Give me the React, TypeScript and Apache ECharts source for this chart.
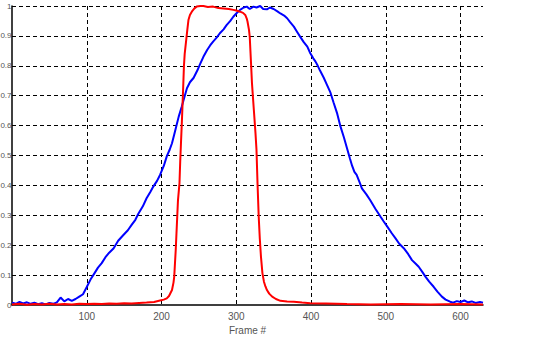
import React, { useEffect, useRef } from "react";
import * as echarts from "echarts";

const blueX = [0,5,10,15,20,25,30,35,40,45,50,55,60,65,70,75,80,85,90,95,100,105,110,115,120,125,130,136,142,149,155,160,165,169,175,180,185,189,194,198,203,207,211,214,217,220,223,227,230,234,238,243,248,252,256,261,265,269,274,278,283,287,292,296,300,305,310,314,318,323,327,332,336,341,345,350,355,359,364,368,372,377,381,386,390,395,399,403,406,409,412,417,421,426,430,435,439,444,448,452,455,458,461,465,468,474,479,486,493,497,502,508,513,518,524,530,535,540,544,549,553,558,564,569,575,580,586,590,595,600,605,610,615,620,626,630];
const blueY = [0.008,0.004,0.01,0.005,0.009,0.004,0.008,0.003,0.006,0.002,0.007,0.004,0.009,0.025,0.012,0.02,0.014,0.02,0.028,0.036,0.06,0.085,0.105,0.125,0.14,0.16,0.175,0.19,0.215,0.234,0.25,0.268,0.285,0.305,0.33,0.357,0.378,0.396,0.415,0.435,0.465,0.497,0.52,0.541,0.57,0.6,0.63,0.663,0.69,0.725,0.745,0.76,0.785,0.808,0.83,0.853,0.868,0.881,0.895,0.909,0.922,0.936,0.95,0.964,0.975,0.987,0.995,0.998,0.99,0.998,0.995,1.0,0.99,0.989,0.995,0.99,0.982,0.975,0.968,0.959,0.946,0.931,0.915,0.895,0.88,0.864,0.842,0.825,0.814,0.8,0.784,0.76,0.738,0.71,0.678,0.64,0.6,0.56,0.525,0.49,0.465,0.445,0.435,0.41,0.39,0.37,0.351,0.322,0.295,0.28,0.262,0.24,0.223,0.205,0.19,0.17,0.15,0.138,0.128,0.11,0.095,0.078,0.061,0.045,0.028,0.018,0.011,0.008,0.013,0.01,0.015,0.009,0.012,0.007,0.01,0.008];

const redX = [0,10,20,30,40,50,60,70,80,90,100,110,120,130,140,150,160,170,180,190,198,203,207,210,212,214,216,217,218,219,220,221,222,224,225,226,227,228,229,230,231,233,234.5,236,238,240.5,244,247,252,256,262,269,276,283,290,296,300,305,309,312,314,315,317,318,319.5,321,323.5,325.7,327,328.4,330,331.5,333,335,337,339,341,344,348,353,359,368,377,388,399,420,448,480,520,560,600,630];
const redY = [0.002,0.004,0.001,0.003,0.002,0.004,0.002,0.003,0.002,0.004,0.003,0.004,0.003,0.005,0.004,0.006,0.005,0.007,0.008,0.01,0.015,0.018,0.022,0.03,0.04,0.05,0.075,0.095,0.14,0.184,0.24,0.295,0.35,0.407,0.48,0.541,0.6,0.663,0.73,0.8,0.84,0.886,0.92,0.953,0.97,0.981,0.992,0.998,1.0,1.0,0.997,0.998,0.993,0.992,0.99,0.987,0.985,0.981,0.977,0.97,0.958,0.948,0.92,0.897,0.82,0.741,0.652,0.574,0.52,0.407,0.295,0.22,0.162,0.106,0.078,0.062,0.05,0.038,0.028,0.02,0.014,0.012,0.011,0.008,0.006,0.005,0.003,0.002,0.003,0.002,0.003,0.002];

const xName = "Frame #";

export default function App() {
  const ref = useRef<HTMLDivElement>(null);
  useEffect(() => {
    if (!ref.current) return;
    const chart = echarts.init(ref.current, null, { renderer: "svg" });
    const labelFont = { fontFamily: "'Liberation Sans Narrow', 'Liberation Sans', Arial, sans-serif", color: "#555" };
    chart.setOption({
      animation: false,
      backgroundColor: "#fff",
      grid: { left: 12, top: 6, right: 57, bottom: 42, containLabel: false, outerBoundsMode: "none" },
      xAxis: {
        type: "value",
        min: 0,
        max: 630,
        interval: 100,
        name: xName,
        nameLocation: "middle",
        nameGap: 17,
        nameTextStyle: { ...labelFont, fontSize: 10 },
        axisLine: { show: true, onZero: false, lineStyle: { color: "#000", width: 1.5 } },
        axisTick: { show: false },
        axisLabel: { ...labelFont, fontSize: 10, margin: 6, showMinLabel: false, showMaxLabel: false },
        splitLine: { show: true, showMinLine: false, showMaxLine: false, lineStyle: { color: "#000", type: [4, 3], width: 1 } },
      },
      yAxis: {
        type: "value",
        min: 0,
        max: 1,
        interval: 0.1,
        axisLine: { show: true, lineStyle: { color: "#000", width: 1.5 } },
        axisTick: { show: false },
        axisLabel: { ...labelFont, fontSize: 8, margin: 0.5, formatter: (v: number) => String(Math.round(v * 10) / 10) },
        splitLine: { show: true, showMinLine: false, lineStyle: { color: "#000", type: [4, 3], width: 1 } },
      },
      series: [
        {
          type: "line",
          data: blueX.map((x, i) => [x, blueY[i]]),
          showSymbol: false,
          lineStyle: { color: "#0000ff", width: 2 },
          itemStyle: { color: "#0000ff" },
        },
        {
          type: "line",
          data: redX.map((x, i) => [x, redY[i]]),
          showSymbol: false,
          lineStyle: { color: "#ff0000", width: 2 },
          itemStyle: { color: "#ff0000" },
        },
      ],
    });
    return () => chart.dispose();
  }, []);
  return <div ref={ref} style={{ width: 540, height: 347, position: "absolute", left: 0, top: 0 }} />;
}
